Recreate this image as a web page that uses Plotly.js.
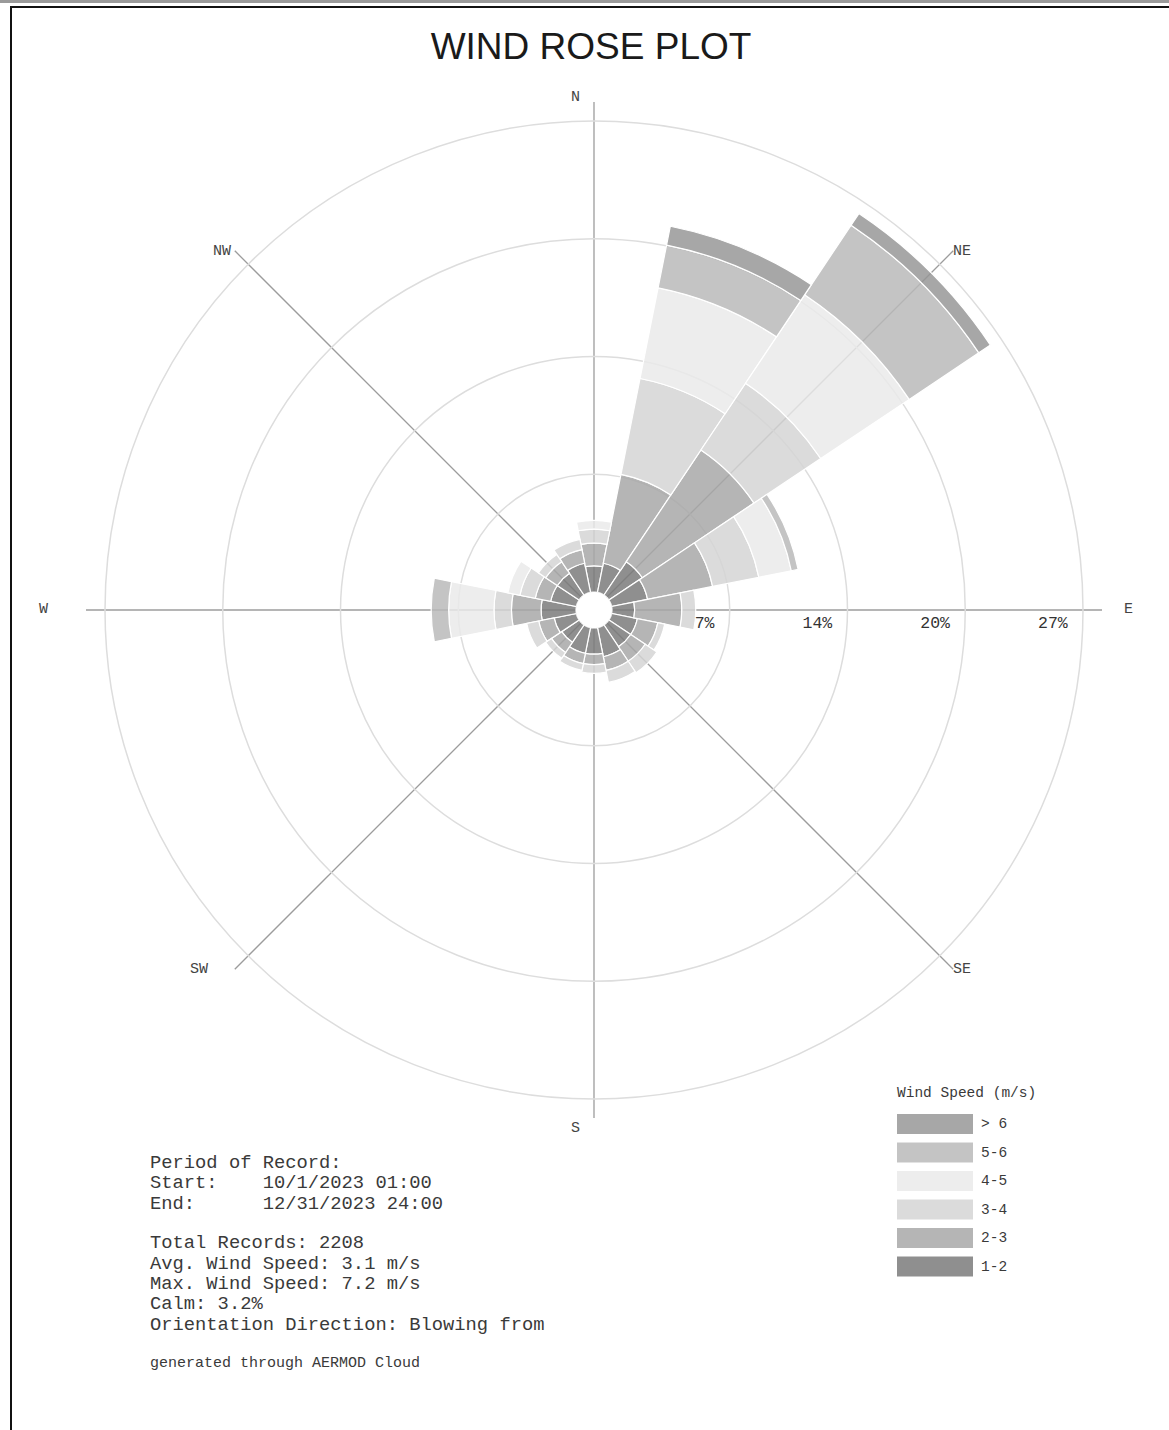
<!DOCTYPE html>
<html><head><meta charset="utf-8">
<script src="https://cdn.plot.ly/plotly-3.0.1.min.js"></script>
<style>html,body{margin:0;padding:0;background:#fff;}#chart{width:1169px;height:1430px;}</style>
</head><body><div id="chart"></div>
<script>
// ---------------- DATA ----------------
const directions = ['N','NNE','NE','ENE','E','ESE','SE','SSE','S','SSW','SW','WSW','W','WNW','NW','NNW'];
const speedBins = ['1-2','2-3','3-4','4-5','5-6','> 6'];
// percent of records per direction, by wind-speed bin (m/s)
const speed1to2  = [1.5, 1.7, 2.3, 2.1, 1.3, 1.5, 1.5, 1.7, 1.5, 1.5, 1.2, 1.3, 2.0, 1.5, 1.5, 1.7];
const speed2to3  = [1.3, 5.2, 7.7, 3.8, 2.7, 1.2, 1.0, 0.8, 0.6, 0.6, 0.7, 0.9, 1.7, 0.9, 0.8, 0.8];
const speed3to4  = [0.8, 5.6, 4.6, 2.7, 0.8, 0.4, 0.8, 0.7, 0.5, 0.4, 0.4, 0.7, 1.0, 0.9, 0.5, 0.6];
const speed4to5  = [0.5, 5.3, 6.1, 1.9, 0.0, 0.0, 0.0, 0.0, 0.0, 0.0, 0.0, 0.0, 2.6, 0.7, 0.0, 0.0];
const speed5to6  = [0.0, 2.5, 4.8, 0.4, 0.0, 0.0, 0.0, 0.0, 0.0, 0.0, 0.0, 0.0, 1.0, 0.0, 0.0, 0.0];
const speedOver6 = [0.0, 1.1, 0.8, 0.0, 0.0, 0.0, 0.0, 0.0, 0.0, 0.0, 0.0, 0.0, 0.0, 0.0, 0.0, 0.0];
const ringValues = [6.75, 13.5, 20.25, 27];
const ringLabels = ['7%', '14%', '20%', '27%'];
const compassLabels = ['N','NE','E','SE','S','SW','W','NW'];
const titleText = 'WIND ROSE PLOT';
const legendTitle = 'Wind Speed (m/s)';
const infoLines = [
  'Period of Record:',
  'Start:    10/1/2023 01:00',
  'End:      12/31/2023 24:00',
  'Total Records: 2208',
  'Avg. Wind Speed: 3.1 m/s',
  'Max. Wind Speed: 7.2 m/s',
  'Calm: 3.2%',
  'Orientation Direction: Blowing from'
];
const footerText = 'generated through AERMOD Cloud';

// ---------------- STYLE ----------------
const W = 1169, H = 1430;
const px = x => x / W, py = y => 1 - y / H;
const alpha = 0.84;
const grayLevels = [143, 181, 219, 237, 196, 167]; // displayed grey per bin
const binColors = grayLevels.map(g => {
  const c = Math.round((g - 255 * (1 - alpha)) / alpha);
  return `rgba(${c},${c},${c},${alpha})`;
});
const series = [speed1to2, speed2to3, speed3to4, speed4to5, speed5to6, speedOver6];
const step = 360 / directions.length;
const angles = directions.map((d, i) => i * step);
const compassAngles = compassLabels.map((d, i) => i * 45);

const traces = series.map((vals, k) => ({
  type: 'barpolar',
  r: vals,
  theta: angles,
  width: angles.map(() => step),
  name: speedBins[k],
  marker: {color: binColors[k], line: {color: '#ffffff', width: 1.2}},
  hoverinfo: 'skip'
}));
traces.push({
  type: 'scatterpolar',
  mode: 'markers+text',
  r: ringValues,
  theta: ringValues.map(() => 90),
  text: ringLabels.map(t => t + '\u00A0'),
  textposition: 'bottom left',
  marker: {size: 7, opacity: 0},
  textfont: {family: 'Liberation Mono', size: 16.5, color: '#333'},
  cliponaxis: false,
  hoverinfo: 'skip',
  showlegend: false
});

const monoFont = (s, c) => ({family: 'Liberation Mono, Courier New, monospace', size: s, color: c || '#333'});
const annotations = [];
const shapes = [];

// compass labels
const compassPos = [[575,98],[962,251],[1128,609],[962,969],[575,1128],[199,969],[43,609],[222,251]];
compassLabels.forEach((t, i) => annotations.push({
  xref:'paper', yref:'paper', x: px(compassPos[i][0]), y: py(compassPos[i][1]),
  text: t, showarrow:false, xanchor:'center', yanchor:'middle', font: monoFont(15, '#444')
}));

// info block
const infoY = [1163, 1183, 1204, 1243, 1264, 1284, 1304, 1325];
infoLines.forEach((t, i) => annotations.push({
  xref:'paper', yref:'paper', x: px(148), y: py(infoY[i]),
  text: t.replace(/ /g, '\u00A0'), showarrow:false, xanchor:'left', yanchor:'middle', font: monoFont(18.8, '#3a3a3a')
}));
annotations.push({xref:'paper', yref:'paper', x: px(148), y: py(1363), text: footerText.replace(/ /g,'\u00A0'),
  showarrow:false, xanchor:'left', yanchor:'middle', font: monoFont(15, '#3a3a3a')});

// legend
annotations.push({xref:'paper', yref:'paper', x: px(895), y: py(1093), text: legendTitle.replace(/ /g,'\u00A0'),
  showarrow:false, xanchor:'left', yanchor:'middle', font: monoFont(14.5, '#3a3a3a')});
const legTop = 1114, legStep = 28.5, legH = 20;
for (let j = 0; j < speedBins.length; j++) {
  const k = speedBins.length - 1 - j;
  const y0 = legTop + j * legStep;
  shapes.push({type:'rect', xref:'paper', yref:'paper', x0: px(897), x1: px(973), y0: py(y0), y1: py(y0 + legH),
    fillcolor: binColors[k], line: {width: 0}});
  annotations.push({xref:'paper', yref:'paper', x: px(979), y: py(y0 + legH / 2), text: speedBins[k].replace(/ /g,'\u00A0'),
    showarrow:false, xanchor:'left', yanchor:'middle', font: monoFont(14.5, '#3a3a3a')});
}

// page frame
shapes.push({type:'line', xref:'paper', yref:'paper', x0:0, x1:1, y0: py(1.5), y1: py(1.5), line:{color:'#9a9a9a', width:3}});
shapes.push({type:'line', xref:'paper', yref:'paper', x0: px(10), x1:1, y0: py(7), y1: py(7), line:{color:'#111', width:2}});
shapes.push({type:'line', xref:'paper', yref:'paper', x0: px(11), x1: px(11), y0: py(7), y1: 0, line:{color:'#111', width:2}});

// polar geometry: centre (594,610), outer edge 508 px, hole 18 px
const cx = 594, cy = 610, R = 508, holePx = 18;
const layout = {
  width: W, height: H,
  margin: {l:0, r:0, t:0, b:0},
  paper_bgcolor: '#ffffff',
  showlegend: false,
  title: {text: titleText, xref:'paper', yref:'paper', x: px(591), y: py(46), xanchor:'center', yanchor:'middle',
    font: {family: 'Liberation Sans, Arial, sans-serif', size: 37, color: '#1a1a1a'}},
  polar: {
    domain: {x: [px(cx - R), px(cx + R)], y: [py(cy + R), py(cy - R)]},
    hole: holePx / R,
    bgcolor: '#ffffff',
    barmode: 'stack',
    bargap: 0,
    radialaxis: {range: [0, 28.09], tickmode:'array', tickvals: ringValues, showticklabels: false, ticks: '',
      showline: false, gridcolor: '#dddddd', gridwidth: 1.5, angle: 0},
    angularaxis: {rotation: 90, direction: 'clockwise', tickmode: 'array', tickvals: compassAngles,
      showticklabels: false, ticks: '', showline: false, gridcolor: '#9c9c9c', gridwidth: 1.3}
  },
  annotations: annotations,
  shapes: shapes
};
Plotly.newPlot('chart', traces, layout, {staticPlot: true});
</script>
</body></html>
